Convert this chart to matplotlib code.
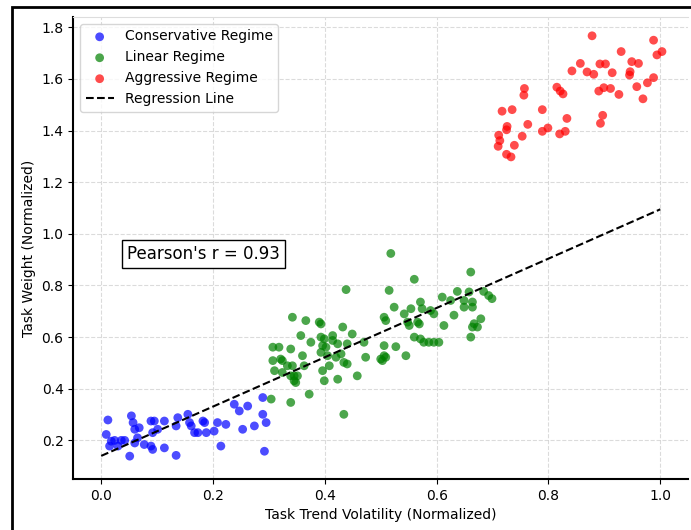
import numpy as np
import matplotlib
matplotlib.use("Agg")
import matplotlib.pyplot as plt
from matplotlib.patches import Rectangle

# conservative regime (blue)
cons_x = [0.012, 0.009, 0.018, 0.024, 0.036, 0.042, 0.015, 0.030, 0.054, 0.057,
          0.060, 0.068, 0.051, 0.060, 0.065, 0.077, 0.089, 0.092, 0.089, 0.095,
          0.092, 0.101, 0.113, 0.113, 0.134, 0.137, 0.134, 0.155, 0.158, 0.161,
          0.167, 0.173, 0.182, 0.185, 0.188, 0.202, 0.208, 0.223, 0.214, 0.238,
          0.247, 0.262, 0.253, 0.274, 0.289, 0.295, 0.289, 0.292]
cons_y = [0.279, 0.223, 0.197, 0.200, 0.200, 0.200, 0.178, 0.178, 0.295, 0.269,
          0.243, 0.249, 0.139, 0.190, 0.210, 0.184, 0.178, 0.165, 0.275, 0.275,
          0.230, 0.243, 0.275, 0.171, 0.142, 0.288, 0.256, 0.301, 0.269, 0.256,
          0.230, 0.230, 0.275, 0.269, 0.230, 0.236, 0.269, 0.262, 0.178, 0.340,
          0.314, 0.333, 0.243, 0.256, 0.301, 0.269, 0.366, 0.158]

# linear regime (green)
lin_x = [0.518, 0.560, 0.661, 0.438, 0.515, 0.637, 0.658, 0.684, 0.693, 0.699,
         0.610, 0.625, 0.649, 0.664, 0.649, 0.664, 0.571, 0.574, 0.589, 0.554,
         0.542, 0.524, 0.506, 0.509, 0.548, 0.551, 0.566, 0.569, 0.595, 0.613,
         0.631, 0.679, 0.667, 0.664, 0.673, 0.661, 0.560, 0.571, 0.577, 0.586,
         0.595, 0.604, 0.506, 0.527, 0.545, 0.500, 0.503, 0.509, 0.506, 0.473,
         0.458, 0.434, 0.470, 0.449, 0.432, 0.440, 0.434, 0.440, 0.414, 0.414,
         0.393, 0.399, 0.396, 0.402, 0.393, 0.405, 0.423, 0.420, 0.429, 0.408,
         0.396, 0.399, 0.423, 0.390, 0.393, 0.366, 0.375, 0.357, 0.360, 0.363,
         0.351, 0.345, 0.342, 0.342, 0.339, 0.333, 0.324, 0.307, 0.318, 0.321,
         0.307, 0.310, 0.324, 0.339, 0.348, 0.345, 0.372, 0.339, 0.304]
lin_y = [0.924, 0.824, 0.852, 0.784, 0.781, 0.777, 0.775, 0.777, 0.761, 0.749,
         0.755, 0.742, 0.742, 0.736, 0.716, 0.716, 0.736, 0.710, 0.703, 0.710,
         0.690, 0.716, 0.677, 0.664, 0.658, 0.645, 0.658, 0.651, 0.690, 0.645,
         0.685, 0.671, 0.652, 0.639, 0.639, 0.600, 0.600, 0.593, 0.580, 0.580,
         0.580, 0.580, 0.567, 0.563, 0.528, 0.515, 0.509, 0.522, 0.528, 0.522,
         0.450, 0.301, 0.580, 0.612, 0.639, 0.574, 0.502, 0.496, 0.606, 0.587,
         0.600, 0.593, 0.567, 0.561, 0.541, 0.528, 0.574, 0.522, 0.535, 0.489,
         0.470, 0.431, 0.437, 0.658, 0.651, 0.664, 0.580, 0.606, 0.528, 0.489,
         0.450, 0.450, 0.489, 0.677, 0.554, 0.489, 0.463, 0.561, 0.561, 0.515,
         0.509, 0.470, 0.509, 0.450, 0.424, 0.431, 0.379, 0.347, 0.360]

# aggressive regime (red)
agg_x = [0.878, 0.988, 1.003, 0.994, 0.930, 0.949, 0.961, 0.857, 0.892, 0.902,
         0.842, 0.869, 0.881, 0.914, 0.946, 0.945, 0.988, 0.977, 0.958, 0.969,
         0.899, 0.890, 0.911, 0.926, 0.815, 0.821, 0.826, 0.757, 0.756, 0.789,
         0.833, 0.830, 0.820, 0.799, 0.789, 0.897, 0.893, 0.717, 0.735, 0.763,
         0.726, 0.725, 0.711, 0.713, 0.710, 0.753, 0.739, 0.725, 0.733]
agg_y = [1.767, 1.750, 1.706, 1.693, 1.706, 1.667, 1.660, 1.660, 1.658, 1.658,
         1.631, 1.627, 1.618, 1.624, 1.628, 1.615, 1.605, 1.585, 1.570, 1.523,
         1.566, 1.553, 1.563, 1.540, 1.568, 1.553, 1.542, 1.563, 1.537, 1.481,
         1.447, 1.397, 1.387, 1.410, 1.397, 1.459, 1.428, 1.475, 1.481, 1.424,
         1.416, 1.403, 1.382, 1.361, 1.339, 1.378, 1.343, 1.308, 1.298]

# regression line (y = a + b*x)
reg_intercept = 0.14
reg_slope = 0.955
pearson_r = 0.93

fig = plt.figure(figsize=(6.91, 5.30), dpi=100)
ax = fig.add_axes([0.106, 0.096, 0.89, 0.872])

ax.scatter(cons_x, cons_y, color='blue', alpha=0.7, s=40, edgecolors='none', label='Conservative Regime')
ax.scatter(lin_x, lin_y, color='green', alpha=0.7, s=40, edgecolors='none', label='Linear Regime')
ax.scatter(agg_x, agg_y, color='red', alpha=0.7, s=40, edgecolors='none', label='Aggressive Regime')

xs = np.linspace(0, 1, 100)
ax.plot(xs, reg_intercept + reg_slope * xs, 'k--', lw=1.5, label='Regression Line')

ax.text(0.087, 0.487, f"Pearson's r = {pearson_r:.2f}", transform=ax.transAxes,
        fontsize=12, va='center', ha='left',
        bbox=dict(boxstyle='square,pad=0.3', facecolor='white', edgecolor='black'))

ax.set_xlim(-0.05, 1.05)
ax.set_ylim(0.05, 1.84)
ax.set_xticks([0.0, 0.2, 0.4, 0.6, 0.8, 1.0])
ax.set_yticks([0.2, 0.4, 0.6, 0.8, 1.0, 1.2, 1.4, 1.6, 1.8])
ax.grid(True, linestyle='--', color='#cccccc', alpha=0.7)
ax.set_axisbelow(True)
ax.set_xlabel('Task Trend Volatility (Normalized)', fontsize=10)
ax.set_ylabel('Task Weight (Normalized)', fontsize=10)
ax.spines['left'].set_linewidth(1.5)
ax.spines['bottom'].set_linewidth(1.5)
ax.spines['top'].set_color('#dddddd')
ax.spines['right'].set_visible(False)
ax.legend(loc='upper left', fontsize=10, framealpha=0.8)

# outer frame of the figure
fig.patches.append(Rectangle((12 / 691, -0.1), 1.2, 1.1 - 7 / 530, transform=fig.transFigure,
                             fill=False, edgecolor='black', lw=2, clip_on=False))

fig.savefig('out.png', dpi=100)
